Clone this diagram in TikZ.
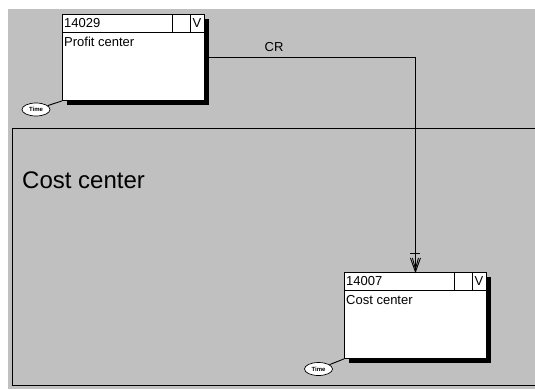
\documentclass[tikz,border=0pt]{standalone}
\usepackage{fontspec}
\setmainfont{Liberation Sans}
\usetikzlibrary{shapes.geometric}
\definecolor{bg}{HTML}{C0C0C0}
\begin{document}
\begin{tikzpicture}[x=1pt,y=-1pt,
  entbox/.style={draw, fill=white, line width=0.9pt, minimum width=142pt, minimum height=86pt, anchor=north west, inner sep=0pt},
  shadowbox/.style={fill=black, minimum width=142pt, minimum height=86pt, anchor=north west, inner sep=0pt},
  timeell/.style={draw, fill=white, ellipse, line width=0.7pt, minimum width=28pt, minimum height=13pt, inner sep=0pt, font=\fontsize{6}{6}\selectfont\bfseries},
  lbl/.style={font=\fontsize{13}{13}\selectfont, inner sep=0pt},
  thinln/.style={line width=0.9pt}]
\useasboundingbox (0,0) rectangle (535,389);
\fill[white] (0,0) rectangle (535,389);
\fill[bg] (8,9) rectangle (535,389);
% container
\draw[thinln] (535,128) -- (12,128) -- (12,385) -- (535,385);
\node[anchor=base west, font=\fontsize{24}{24}\selectfont, inner sep=0pt] (ccl) at (22,188) {Cost center};
% profit center entity
\node[shadowbox] (pcs) at (67,19) {};
\node[entbox] (pc) at (62,14) {};
\draw[thinln] (pc.north west) ++(0,18) -- ++(142,0);
\draw[thinln] (pc.north west) ++(110,0) -- ++(0,18);
\draw[thinln] (pc.north west) ++(128,0) -- ++(0,18);
\node[lbl, anchor=west] (pcid) at (64,23) {14029};
\node[lbl] (pcv) at (197,23) {V};
\node[lbl, anchor=base west] (pcn) at (64,46) {Profit center};
\node[timeell] (t1) at (36,109.5) {Time};
\draw[thinln] (t1) -- (pc.south west);
% cost center entity
\node[shadowbox] (ccs) at (349,277) {};
\node[entbox] (cc) at (344,272) {};
\draw[thinln] (cc.north west) ++(0,18) -- ++(142,0);
\draw[thinln] (cc.north west) ++(110,0) -- ++(0,18);
\draw[thinln] (cc.north west) ++(128,0) -- ++(0,18);
\node[lbl, anchor=west] (ccid) at (346,281) {14007};
\node[lbl] (ccv) at (479,281) {V};
\node[lbl, anchor=base west] (ccn) at (346,304) {Cost center};
\node[timeell] (t2) at (318.5,369) {Time};
\draw[thinln] (t2) -- (cc.south west);
% relationship
\draw[thinln] (pc.east) -| (cc.north);
\node[lbl] (cr) at (274,47) {CR};
\draw[thinln] (cc.north) ++(-5,-19) -- ++(10,0);
\draw[thinln] (cc.north) ++(-5,-14) -- ++(5,14) -- ++(5,-14);
\draw[thinln] (cc.north) ++(-3,-14) -- ++(3,11) -- ++(3,-11);
\end{tikzpicture}
\end{document}
